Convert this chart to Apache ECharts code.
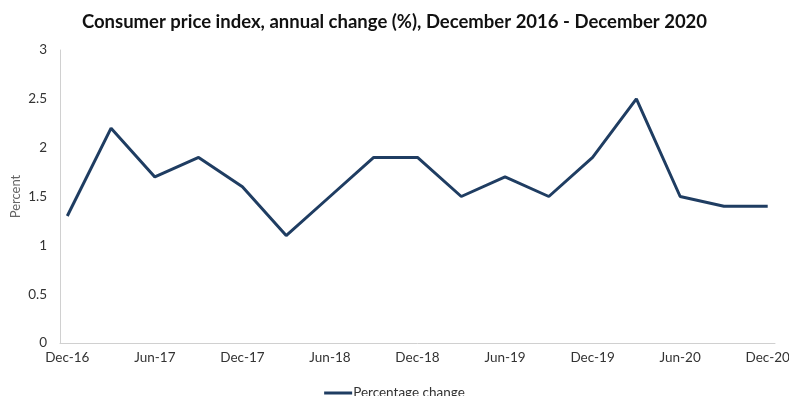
<!DOCTYPE html>
<html>
<head>
<meta charset="utf-8">
<script src="https://cdn.jsdelivr.net/npm/echarts@6/dist/echarts.min.js"></script>
<style>
  html, body { margin: 0; padding: 0; background: #fff; }
  #chart { width: 789px; height: 396px; }
</style>
</head>
<body>
<div id="chart"></div>
<script>
// Quarterly CPI readings, December 2016 to December 2020
const quarters = ['Dec-16', 'Mar-17', 'Jun-17', 'Sep-17', 'Dec-17', 'Mar-18', 'Jun-18', 'Sep-18',
  'Dec-18', 'Mar-19', 'Jun-19', 'Sep-19', 'Dec-19', 'Mar-20', 'Jun-20', 'Sep-20', 'Dec-20'];
const annualChange = [1.3, 2.2, 1.7, 1.9, 1.6, 1.1, 1.5, 1.9, 1.9, 1.5, 1.7, 1.5, 1.9, 2.5, 1.5, 1.4, 1.4];
const yTicks = [0, 0.5, 1, 1.5, 2, 2.5, 3];

// Monthly date axis: each quarter occupies one month slot, with two empty months between
const monthNames = ['Jan', 'Feb', 'Mar', 'Apr', 'May', 'Jun', 'Jul', 'Aug', 'Sep', 'Oct', 'Nov', 'Dec'];
const months = [];
for (let i = 0; i <= 48; i++) {
  const m = (11 + i) % 12;
  const y = 16 + Math.floor((11 + i) / 12);
  months.push(monthNames[m] + '-' + y);
}
const monthly = months.map(() => null);
quarters.forEach((q, i) => { monthly[months.indexOf(q)] = annualChange[i]; });

const font = 'Lato, "Open Sans", sans-serif';
const chart = echarts.init(document.getElementById('chart'));
chart.setOption({
  animation: false,
  title: {
    text: 'Consumer price index, annual change (%), December 2016 - December 2020',
    left: 'center',
    top: 8,
    textStyle: { fontFamily: font, fontSize: 18.5, fontWeight: 'bold', color: '#111' }
  },
  legend: {
    bottom: -9,
    left: 'center',
    itemWidth: 28,
    itemHeight: 3,
    itemGap: 2,
    icon: 'rect',
    textStyle: { fontFamily: font, fontSize: 13.5, color: '#333', padding: [0, 0, 0, -4] },
    data: ['Percentage change']
  },
  grid: { left: 60, right: 14, top: 50, bottom: 53, containLabel: false, outerBoundsMode: 'none' },
  xAxis: {
    type: 'category',
    data: months,
    boundaryGap: true,
    axisLine: { lineStyle: { color: '#d0d0d0', width: 1 } },
    axisTick: { interval: 5, length: 4, lineStyle: { color: '#d0d0d0' } },
    axisLabel: { interval: 5, fontFamily: font, fontSize: 13.5, color: '#333', margin: 8 }
  },
  yAxis: {
    type: 'value',
    min: yTicks[0],
    max: yTicks[yTicks.length - 1],
    interval: 0.5,
    name: 'Percent',
    nameLocation: 'middle',
    nameGap: 38,
    nameMoveOverlap: false,
    nameTextStyle: { fontFamily: font, fontSize: 13, color: '#666' },
    axisLine: { show: true, lineStyle: { color: '#d0d0d0', width: 1 } },
    axisTick: { show: false },
    splitLine: { show: false },
    axisLabel: { fontFamily: font, fontSize: 13.5, color: '#333', margin: 13 }
  },
  series: [{
    name: 'Percentage change',
    type: 'line',
    data: monthly,
    connectNulls: true,
    showSymbol: false,
    symbol: 'none',
    lineStyle: { color: '#1f3d62', width: 3 },
    itemStyle: { color: '#1f3d62' }
  }]
});
</script>
</body>
</html>
